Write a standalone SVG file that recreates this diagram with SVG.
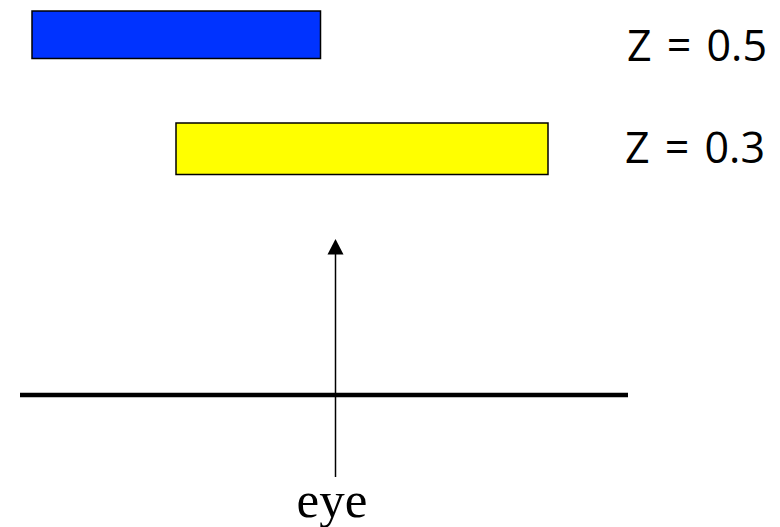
<svg xmlns="http://www.w3.org/2000/svg" width="780" height="527" viewBox="0 0 780 527">
<style>
.box{stroke:#000;stroke-width:1.5}
.lbl{font-family:"Open Sans","Liberation Sans",sans-serif;font-size:43px;fill:#000;word-spacing:4px}
.eye{font-family:"Liberation Serif","Times New Roman",serif;font-size:51px;fill:#000}
</style>
<rect width="780" height="527" fill="#fff"/>
<g id="blue-bar"><rect class="box" x="32" y="11" width="288.5" height="47.5" fill="#0033FF"/></g>
<g id="yellow-bar"><rect class="box" x="176" y="123" width="372" height="51.5" fill="#FFFF00"/></g>
<g id="label-z05"><text class="lbl" x="627" y="61">Z = 0.5</text></g>
<g id="label-z03"><text class="lbl" x="625" y="162.5">Z = 0.3</text></g>
<g id="screen"><line x1="20" y1="395" x2="628" y2="395" stroke="#000" stroke-width="4.5"/></g>
<g id="eye-label"><text class="eye" x="332" y="517" text-anchor="middle">eye</text></g>
<g id="connectors">
<line x1="335.5" y1="477" x2="335.5" y2="254" stroke="#000" stroke-width="1.5"/>
<path d="M335.5 239 L343.5 254.5 L327.5 254.5 Z" fill="#000"/>
</g>
</svg>
